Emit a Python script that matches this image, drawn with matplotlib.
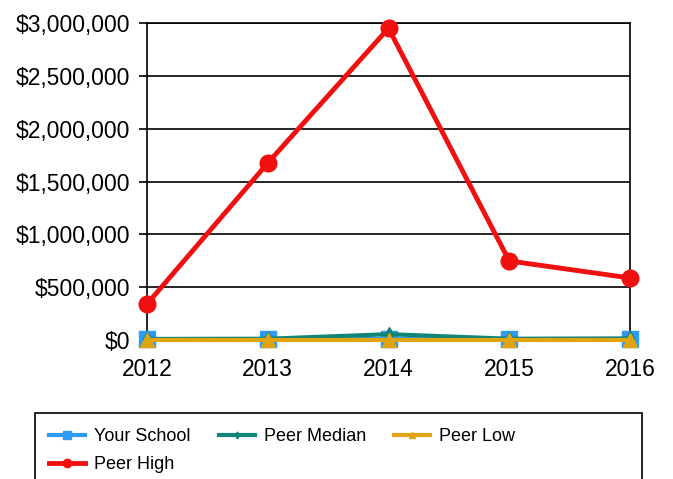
import matplotlib
matplotlib.use("Agg")
import matplotlib.pyplot as plt
from matplotlib.patches import Rectangle
from matplotlib.ticker import FuncFormatter

plt.rcParams["font.family"] = ["Liberation Sans", "DejaVu Sans"]

years = [2012, 2013, 2014, 2015, 2016]
your_school = [5000, 5000, 10000, 5000, 5000]
peer_median = [10000, 12000, 55000, 12000, 15000]
peer_low = [0, 0, 0, 0, 0]
peer_high = [340000, 1675000, 2950000, 748000, 587000]
y_ticks = [0, 500000, 1000000, 1500000, 2000000, 2500000, 3000000]

fig = plt.figure(figsize=(6.73, 4.79), dpi=100)
ax = fig.add_axes([147 / 673, 1 - 340 / 479, 483 / 673, 317 / 479])

l1, = ax.plot(years, your_school, color="#2E9BF5", lw=3, marker="s", ms=11, label="Your School", zorder=3, clip_on=False)
l2, = ax.plot(years, peer_median, color="#12857A", lw=3, marker="d", ms=7, label="Peer Median", zorder=4, clip_on=False)
l3, = ax.plot(years, peer_low, color="#E0A410", lw=3, marker="^", ms=10, label="Peer Low", zorder=5, clip_on=False)
l4, = ax.plot(years, peer_high, color="#F01010", lw=3.5, marker="o", ms=12, label="Peer High", zorder=6, clip_on=False)

ax.set_xlim(2012, 2016)
ax.set_ylim(0, 3000000)
ax.set_xticks(years)
ax.set_yticks(y_ticks)
ax.yaxis.set_major_formatter(FuncFormatter(lambda v, p: "${:,.0f}".format(v)))
ax.grid(axis="y", color="black", lw=1.2)
ax.set_axisbelow(True)
for s in ax.spines.values():
    s.set_linewidth(1.2)
ax.tick_params(axis="y", length=6, width=1.2, labelsize=16.5, pad=6)
ax.tick_params(axis="x", length=0, labelsize=16.5, pad=13)

# legend box, runs off the bottom of the figure
fig.patches.append(Rectangle((35 / 673, -0.05), 607 / 673, 1 - 413 / 479 + 0.05,
                             transform=fig.transFigure, fill=False, ec="black", lw=1.2))
# column-major fill, so order gives rows: Your School, Peer Median, Peer Low / Peer High
handles = [l1, l4, l2, l3]
fig.legend(handles, [h.get_label() for h in handles], loc="upper left",
           bbox_to_anchor=(33 / 673, 1 - 412 / 479),
           ncol=3, frameon=False, fontsize=13, handlelength=2.0, handletextpad=0.5,
           columnspacing=1.55, labelspacing=0.6, markerscale=0.5)

fig.savefig("out.png", dpi=100)
